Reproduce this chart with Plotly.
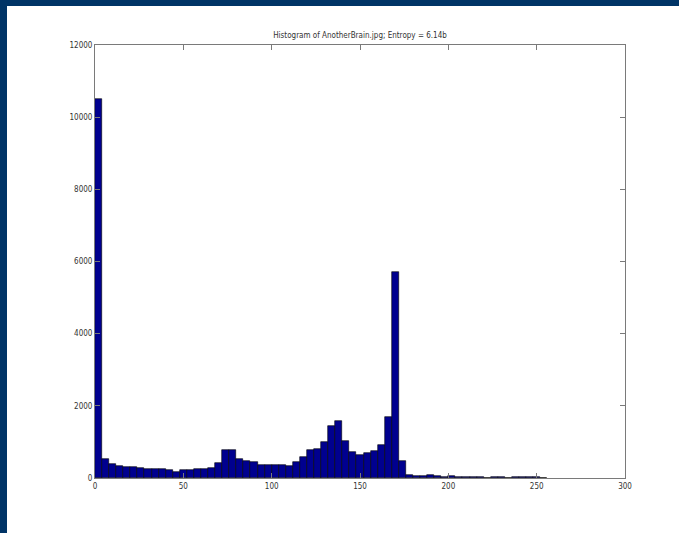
import plotly.graph_objects as go

# Histogram bins (width 4, 0..256) and counts
bin_starts = list(range(0, 256, 4))
counts = [
    10500, 535, 379, 342, 305, 296, 277, 259, 249, 240,
    231, 175, 212, 212, 240, 240, 268, 407, 767, 767,
    527, 462, 434, 351, 360, 360, 360, 342, 453, 573,
    776, 795, 998, 1450, 1589, 1035, 720, 628, 702, 739,
    905, 1700, 5700, 480, 83, 65, 46, 74, 46, 40,
    50, 28, 28, 28, 25, 10, 35, 35, 10, 40,
    15, 15, 15, 12,
]
x_ticks = [0, 50, 100, 150, 200, 250, 300]
y_ticks = [0, 2000, 4000, 6000, 8000, 10000, 12000]
y_tick_labels = ["0", "2000", "4000", "6000", "8000", "10000", "12000"]
title_text = "Histogram of AnotherBrain.jpg; Entropy = 6.14b"

FONT = "Liberation Sans Narrow, DejaVu Sans Condensed, Arial Narrow, sans-serif"
NAVY = "#003466"
AXIS = "#7a7a7a"

fig = go.Figure(
    go.Bar(
        x=bin_starts,
        y=counts,
        width=4,
        offset=0,
        marker=dict(color="#00008F", line=dict(color="#000000", width=0.6)),
        hoverinfo="x+y",
    )
)

W, H = 679, 533
L, R, T, B = 95, 54, 45, 55
pw, ph = W - L - R, H - T - B

def px_x(p):
    return (p - L) / pw

def px_y(p):
    return (H - B - p) / ph

shapes = [
    # top navy strip
    dict(type="rect", xref="paper", yref="paper",
         x0=px_x(0), x1=px_x(W), y0=px_y(6), y1=px_y(0),
         fillcolor=NAVY, line=dict(width=0), layer="above"),
    # left navy strip
    dict(type="rect", xref="paper", yref="paper",
         x0=px_x(0), x1=px_x(7), y0=px_y(H), y1=px_y(0),
         fillcolor=NAVY, line=dict(width=0), layer="above"),
]

fig.update_layout(
    width=W, height=H,
    margin=dict(l=L, r=R, t=T, b=B, pad=0),
    paper_bgcolor="white",
    plot_bgcolor="white",
    showlegend=False,
    bargap=0,
    shapes=shapes,
    font=dict(family=FONT, size=8, color="#333333"),
    title=dict(
        text=title_text,
        x=0.5, xref="paper", xanchor="center",
        y=1 - 35 / H, yref="container", yanchor="middle",
        font=dict(family=FONT, size=8, color="#333333"),
    ),
    xaxis=dict(
        range=[0, 300],
        tickvals=x_ticks,
        ticks="inside", ticklen=5, tickcolor=AXIS, tickwidth=1,
        showline=True, linecolor=AXIS, linewidth=1, mirror="ticks",
        showgrid=False, zeroline=False,
        tickfont=dict(family=FONT, size=8, color="#333333"),
    ),
    yaxis=dict(
        range=[0, 12000],
        tickvals=y_ticks,
        ticktext=y_tick_labels,
        ticks="inside", ticklen=5, tickcolor=AXIS, tickwidth=1,
        showline=True, linecolor=AXIS, linewidth=1, mirror="ticks",
        showgrid=False, zeroline=False,
        tickfont=dict(family=FONT, size=8, color="#333333"),
    ),
)

fig.write_html(
    "out.html",
    config={"displayModeBar": False},
    post_script="document.body.style.margin='0';document.body.style.padding='0';",
)
